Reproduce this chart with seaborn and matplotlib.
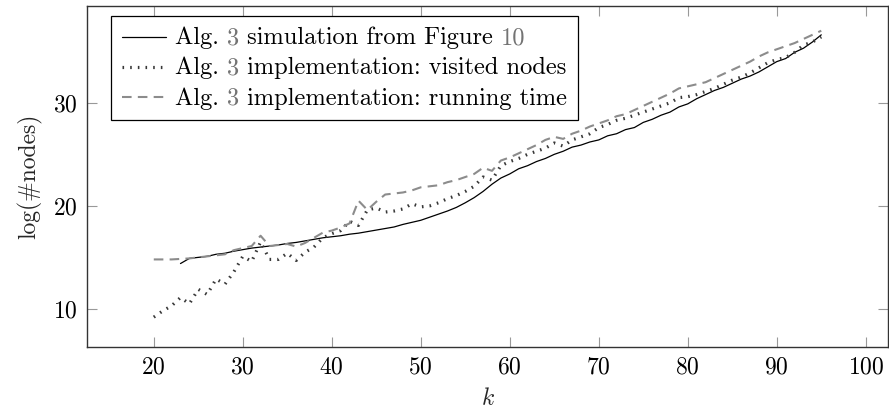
import matplotlib
matplotlib.use("Agg")
import matplotlib.pyplot as plt
import seaborn as sns
from matplotlib.lines import Line2D
from matplotlib.offsetbox import AnchoredOffsetbox, DrawingArea, HPacker, TextArea, VPacker

sns.set_theme(style="ticks")
plt.rcParams["font.family"] = ["cmr10", "DejaVu Serif"]
plt.rcParams["mathtext.fontset"] = "cm"
plt.rcParams["axes.formatter.use_mathtext"] = True

_FONT_SIZE = 17
_LEGEND_FONT_SIZE = 17.6
_LINK_GRAY = "0.45"

# k values and log(#nodes)
k_sim = list(range(23, 96))
sim_nodes = [
    14.4, 14.9, 15.0, 15.1, 15.3, 15.4, 15.6, 15.75, 15.9, 16.0,
    16.1, 16.2, 16.35, 16.45, 16.6, 16.75, 16.9, 17.0, 17.1, 17.25,
    17.35, 17.5, 17.65, 17.8, 17.95, 18.2, 18.4, 18.6, 18.9, 19.2,
    19.5, 19.85, 20.3, 20.8, 21.4, 22.1, 22.7, 23.1, 23.6, 23.9,
    24.3, 24.6, 25.0, 25.3, 25.7, 25.9, 26.2, 26.4, 26.8, 27.0,
    27.4, 27.6, 28.1, 28.4, 28.8, 29.1, 29.6, 29.9, 30.4, 30.8,
    31.2, 31.5, 31.9, 32.3, 32.6, 33.0, 33.5, 34.0, 34.3, 34.9,
    35.3, 35.9, 36.6,
]

k_impl = list(range(20, 96))
visited_nodes = [
    9.2, 9.8, 10.3, 11.1, 10.5, 11.9, 11.4, 12.9, 12.4, 13.6,
    15.1, 14.6, 16.5, 14.8, 14.8, 15.4, 14.7, 15.5, 16.0, 16.9,
    17.3, 17.6, 18.5, 18.1, 19.6, 19.8, 19.4, 19.5, 19.7, 20.2,
    19.9, 20.0, 20.3, 20.7, 21.0, 21.4, 21.9, 22.8, 22.5, 23.9,
    24.3, 24.6, 25.0, 25.3, 25.6, 26.1, 25.8, 26.4, 26.7, 27.0,
    27.6, 27.9, 28.3, 28.5, 28.8, 29.1, 29.4, 29.7, 30.0, 30.5,
    30.6, 30.8, 31.1, 31.4, 31.8, 32.2, 32.5, 32.9, 33.4, 33.9,
    34.2, 34.4, 34.9, 35.6, 35.9, 36.4,
]
running_time = [
    14.8, 14.8, 14.8, 14.85, 14.9, 15.0, 15.1, 15.2, 15.3, 15.7,
    15.9, 16.1, 17.1, 16.1, 16.2, 16.3, 16.05, 16.4, 16.9, 17.4,
    17.6, 17.9, 18.3, 20.5, 19.6, 20.4, 21.1, 21.2, 21.3, 21.5,
    21.8, 21.9, 22.0, 22.3, 22.5, 22.8, 23.1, 23.7, 23.4, 24.4,
    24.7, 25.1, 25.5, 25.9, 26.4, 26.7, 26.5, 27.0, 27.3, 27.7,
    28.0, 28.3, 28.7, 28.9, 29.3, 29.7, 30.1, 30.5, 30.9, 31.4,
    31.6, 31.8, 32.0, 32.4, 32.8, 33.2, 33.6, 34.0, 34.5, 34.9,
    35.2, 35.5, 35.8, 36.2, 36.6, 37.0,
]

x_ticks = [20, 30, 40, 50, 60, 70, 80, 90, 100]
y_ticks = [10, 20, 30]

# (label pieces, colour) for the legend; the reference numbers are link-coloured
legend_rows = [
    [("Alg. ", "black"), ("3", _LINK_GRAY), (" simulation from Figure ", "black"), ("10", _LINK_GRAY)],
    [("Alg. ", "black"), ("3", _LINK_GRAY), (" implementation: visited nodes", "black")],
    [("Alg. ", "black"), ("3", _LINK_GRAY), (" implementation: running time", "black")],
]

styles = [
    dict(color="black", linewidth=0.9, linestyle="-"),
    dict(color="0.22", linewidth=2.3, linestyle=(0, (0.5, 1.9))),
    dict(color="0.55", linewidth=1.5, linestyle=(0, (4.6, 3.0))),
]

fig = plt.figure(figsize=(8.89, 4.13), dpi=100)
ax = fig.add_axes([0.0979, 0.1598, 0.9010, 0.8257])

sns.lineplot(x=k_sim, y=sim_nodes, ax=ax, estimator=None, errorbar=None, **styles[0])
sns.lineplot(x=k_impl, y=visited_nodes, ax=ax, estimator=None, errorbar=None, **styles[1])
sns.lineplot(x=k_impl, y=running_time, ax=ax, estimator=None, errorbar=None, **styles[2])

ax.set_xlim(12.5, 102.5)
ax.set_ylim(6.3, 39.4)
ax.set_xticks(x_ticks)
ax.set_yticks(y_ticks)
ax.tick_params(
    direction="in", top=True, right=True, length=7.5, width=0.8,
    color="0.6", labelsize=_FONT_SIZE, pad=6.5, labelcolor="black",
)
for spine in ax.spines.values():
    spine.set_visible(True)
    spine.set_color("0.2")
    spine.set_linewidth(1.0)

ax.set_xlabel("$k$", fontsize=_FONT_SIZE, labelpad=7)
ax.set_ylabel("log(#nodes)", fontsize=_FONT_SIZE, labelpad=8)

rows = []
for pieces, style in zip(legend_rows, styles):
    handle = DrawingArea(32, 12, 0, 0)
    handle.add_artist(Line2D([0, 32], [5.5, 5.5], **style))
    texts = [TextArea(t, textprops=dict(color=c, fontsize=_LEGEND_FONT_SIZE)) for t, c in pieces]
    text_box = HPacker(children=texts, align="baseline", pad=0, sep=0)
    rows.append(HPacker(children=[handle, text_box], align="baseline", pad=0, sep=6.5))

legend_box = VPacker(children=rows, align="left", pad=0, sep=5.5)
anchored = AnchoredOffsetbox(
    loc="upper left", child=legend_box, pad=0.45, borderpad=0,
    frameon=True, bbox_to_anchor=(0.03, 0.97), bbox_transform=ax.transAxes,
    prop=dict(size=_FONT_SIZE),
)
anchored.patch.set_boxstyle("square", pad=0)
anchored.patch.set_edgecolor("black")
anchored.patch.set_linewidth(0.9)
ax.add_artist(anchored)

fig.savefig("out.png", dpi=100)
plt.close(fig)
